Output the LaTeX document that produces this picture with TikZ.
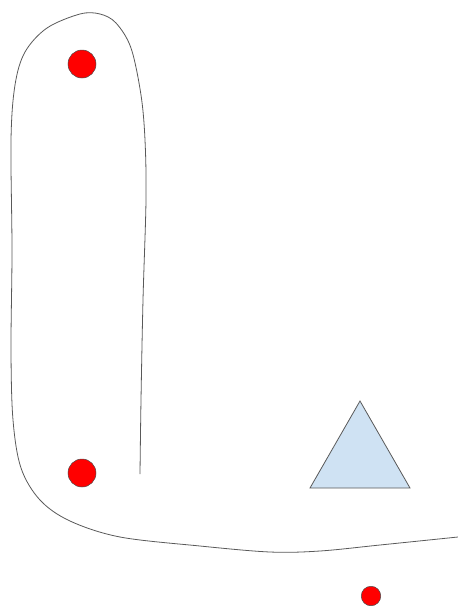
\documentclass[tikz,border=0pt]{standalone}
\definecolor{lightblue}{HTML}{CFE2F3}
\begin{document}
\begin{tikzpicture}[x=1pt,y=-1pt,
  dot/.style={circle,draw=black!70,fill=red,line width=0.5pt,inner sep=0pt},
  outline/.style={draw=black!65,line width=0.8pt},
  tri/.style={draw=black!65,fill=lightblue,line width=0.8pt,line join=miter}]
\useasboundingbox (0,0) rectangle (458,606);
\draw[outline] plot[smooth,tension=0.55] coordinates {
 (140,474) (141,400) (143,300) (146,200) (145,140) (141,95) (131,48) (116,23) (100,14)
 (80,14) (47,28) (25,52) (15,85) (11,140) (12,250) (11,350) (13,420) (21,468) (40,500)
 (70,521) (120,537) (200,546) (270,552) (320,551) (380,545) (458,537)};
\node[dot,minimum size=28pt] (d1) at (82,64) {};
\node[dot,minimum size=28pt] (d2) at (82,473) {};
\node[dot,minimum size=19.5pt] (d3) at (371,596) {};
\filldraw[tri] (360,401) -- (410,488) -- (310,488) -- cycle;
\end{tikzpicture}
\end{document}
